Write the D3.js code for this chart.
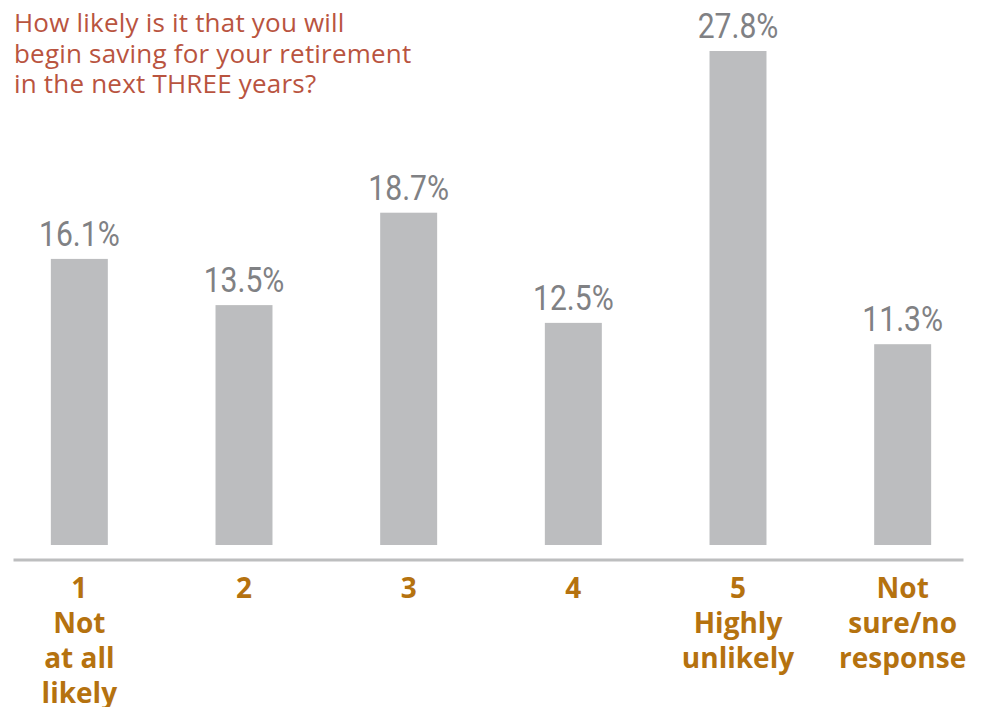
<!DOCTYPE html>
<html>
<head>
<meta charset="utf-8">
<script src="https://cdn.jsdelivr.net/npm/d3@7"></script>
<style>
  body { margin: 0; background: #fff; }
</style>
</head>
<body>
<div id="chart-container"></div>
<script>
// RETIREMENT SAVINGS LIKELIHOOD CHART //

// data
const categories = ["1", "2", "3", "4", "5", "Not sure"];
const categoryLabels = [
    ["1", "Not", "at all", "likely"],
    ["2"],
    ["3"],
    ["4"],
    ["5", "Highly", "unlikely"],
    ["Not", "sure/no", "response"]
];
const percents = [16.1, 13.5, 18.7, 12.5, 27.8, 11.3];
const titleLines = [
    "How likely is it that you will",
    "begin saving for your retirement",
    "in the next THREE years?"
];

// set the dimensions of the graph
const width = 982;
const height = 707;
const baseline = 545;
const axisY = 559.5;

const svg = d3
    .select("#chart-container")
    .append("svg")
    .attr("width", width)
    .attr("height", height);

// Title
svg
    .append("text")
    .attr("x", 14)
    .attr("y", 32)
    .style("font-family", "'Open Sans', sans-serif")
    .style("font-size", "26px")
    .style("letter-spacing", "0.2px")
    .style("fill", "#b9543f")
    .selectAll("tspan")
    .data(titleLines)
    .join("tspan")
    .attr("x", 14)
    .attr("dy", (d, i) => (i === 0 ? 0 : 30.5))
    .text((d) => d);

// X scale
const x = d3
    .scaleBand()
    .range([-3, 985])
    .domain(categories)
    .paddingInner(0.654)
    .paddingOuter(0.327);

// Y scale
const y = d3
    .scaleLinear()
    .domain([0, d3.max(percents)])
    .range([baseline, 51]);

const data = categories.map((c, i) => ({ cat: c, value: percents[i], label: categoryLabels[i] }));

// Bars
svg
    .append("g")
    .selectAll("rect")
    .data(data)
    .join("rect")
    .attr("x", (d) => x(d.cat))
    .attr("y", (d) => y(d.value))
    .attr("width", x.bandwidth())
    .attr("height", (d) => baseline - y(d.value))
    .attr("fill", "#bcbdbf");

// Value labels (condensed look with a horizontal squeeze)
svg
    .append("g")
    .selectAll("text")
    .data(data)
    .join("text")
    .attr("transform", (d) => `translate(${x(d.cat) + x.bandwidth() / 2},${y(d.value) - 13}) scale(0.86,1)`)
    .attr("text-anchor", "middle")
    .style("font-family", "'Roboto', sans-serif")
    .style("font-weight", 400)
    .style("font-size", "35px")
    .style("fill", "#808184")
    .text((d) => d.value.toFixed(1) + "%");

// Axis line (bottom axis without ticks)
const axis = svg
    .append("g")
    .attr("transform", `translate(0, ${axisY})`)
    .call(d3.axisBottom(d3.scaleLinear().range([13, 963])).ticks(0).tickSizeOuter(0));

axis.select(".domain")
    .attr("stroke", "#bdbebf")
    .attr("stroke-width", 3);

// Category labels
svg
    .append("g")
    .selectAll("text")
    .data(data)
    .join("text")
    .attr("x", (d) => x(d.cat) + x.bandwidth() / 2)
    .attr("y", 598)
    .attr("text-anchor", "middle")
    .style("font-family", "'Open Sans', sans-serif")
    .style("font-weight", "bold")
    .style("font-size", "28px")
    .style("fill", "#b5720f")
    .selectAll("tspan")
    .data((d) => d.label)
    .join("tspan")
    .attr("x", function () { return d3.select(this.parentNode).attr("x"); })
    .attr("dy", (d, i) => (i === 0 ? 0 : 35))
    .text((d) => d);
</script>
</body>
</html>
